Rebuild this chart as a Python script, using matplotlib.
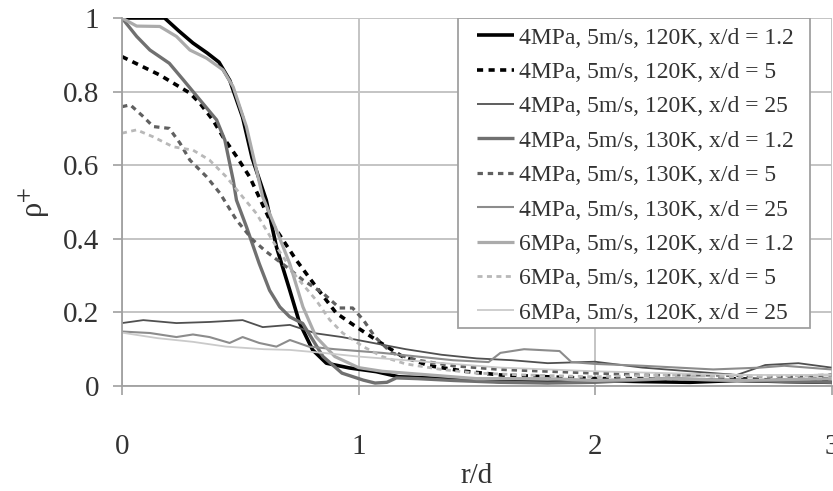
import matplotlib
matplotlib.use("Agg")
import matplotlib.pyplot as plt
from matplotlib.patches import Rectangle

plt.rcParams['font.family'] = ['Liberation Serif', 'DejaVu Serif']
plt.rcParams['mathtext.fontset'] = 'stix'

labels = [
    "4MPa, 5m/s, 120K, x/d = 1.2",
    "4MPa, 5m/s, 120K, x/d = 5",
    "4MPa, 5m/s, 120K, x/d = 25",
    "4MPa, 5m/s, 130K, x/d = 1.2",
    "4MPa, 5m/s, 130K, x/d = 5",
    "4MPa, 5m/s, 130K, x/d = 25",
    "6MPa, 5m/s, 120K, x/d = 1.2",
    "6MPa, 5m/s, 120K, x/d = 5",
    "6MPa, 5m/s, 120K, x/d = 25",
]

r1 = [0, 0.1, 0.18, 0.24, 0.30, 0.36, 0.41, 0.456, 0.51, 0.55, 0.61, 0.653, 0.709, 0.751, 0.806, 0.864, 0.962, 1.075, 1.17, 1.3, 1.45, 1.6, 1.8, 2.0, 2.2, 2.4, 2.6, 2.8, 3.0]
p1 = [1, 1, 1, 0.965, 0.932, 0.905, 0.88, 0.83, 0.73, 0.62, 0.505, 0.378, 0.261, 0.171, 0.098, 0.062, 0.049, 0.039, 0.025, 0.022, 0.018, 0.012, 0.01, 0.015, 0.012, 0.01, 0.015, 0.012, 0.01]

r2 = [0, 0.16, 0.287, 0.33, 0.384, 0.427, 0.485, 0.54, 0.625, 0.737, 0.82, 0.906, 0.99, 1.075, 1.186, 1.3, 1.45, 1.6, 1.8, 2.0, 2.2, 2.4, 2.6, 2.8, 3.0]
p2 = [0.895, 0.845, 0.796, 0.768, 0.723, 0.677, 0.623, 0.568, 0.451, 0.342, 0.27, 0.198, 0.161, 0.125, 0.08, 0.055, 0.04, 0.03, 0.025, 0.02, 0.02, 0.015, 0.02, 0.015, 0.02]

r3 = [0, 0.09, 0.23, 0.37, 0.51, 0.595, 0.71, 0.82, 0.93, 1.07, 1.2, 1.35, 1.5, 1.65, 1.8, 2.0, 2.2, 2.4, 2.6, 2.72, 2.86, 3.0]
p3 = [0.171, 0.179, 0.171, 0.174, 0.179, 0.16, 0.166, 0.143, 0.133, 0.116, 0.1, 0.085, 0.075, 0.07, 0.062, 0.066, 0.05, 0.04, 0.03, 0.057, 0.062, 0.05]

r4 = [0, 0.062, 0.118, 0.2, 0.259, 0.33, 0.4, 0.435, 0.47, 0.484, 0.526, 0.58, 0.624, 0.667, 0.709, 0.764, 0.85, 0.93, 1.02, 1.07, 1.12, 1.16, 1.25, 1.4, 1.6, 1.8, 2.0, 2.3, 2.6, 3.0]
p4 = [1, 0.95, 0.913, 0.877, 0.832, 0.777, 0.723, 0.668, 0.56, 0.505, 0.433, 0.333, 0.26, 0.215, 0.188, 0.17, 0.08, 0.035, 0.016, 0.008, 0.01, 0.022, 0.02, 0.015, 0.01, 0.008, 0.01, 0.02, 0.015, 0.01]

r5 = [0, 0.035, 0.09, 0.132, 0.2, 0.245, 0.287, 0.357, 0.414, 0.484, 0.553, 0.61, 0.695, 0.765, 0.85, 0.92, 0.975, 1.02, 1.07, 1.14, 1.25, 1.4, 1.6, 1.8, 2.0, 2.2, 2.5, 2.8, 3.0]
p5 = [0.759, 0.764, 0.732, 0.705, 0.70, 0.66, 0.614, 0.569, 0.524, 0.451, 0.397, 0.365, 0.324, 0.288, 0.252, 0.212, 0.212, 0.18, 0.133, 0.09, 0.07, 0.055, 0.045, 0.04, 0.035, 0.03, 0.03, 0.025, 0.03]

r6 = [0, 0.118, 0.23, 0.3, 0.37, 0.455, 0.51, 0.58, 0.653, 0.71, 0.79, 0.9, 1.0, 1.1, 1.25, 1.4, 1.55, 1.6, 1.7, 1.85, 1.9, 2.0, 2.2, 2.5, 2.7, 2.8, 3.0]
p6 = [0.148, 0.144, 0.133, 0.14, 0.133, 0.117, 0.133, 0.117, 0.107, 0.125, 0.107, 0.1, 0.095, 0.09, 0.08, 0.07, 0.065, 0.09, 0.1, 0.095, 0.065, 0.06, 0.055, 0.045, 0.05, 0.055, 0.045]

r7 = [0, 0.062, 0.16, 0.23, 0.287, 0.357, 0.427, 0.47, 0.526, 0.595, 0.653, 0.709, 0.765, 0.82, 0.9, 1.0, 1.1, 1.3, 1.5, 1.8, 2.0, 2.3, 2.6, 3.0]
p7 = [1, 0.978, 0.977, 0.95, 0.913, 0.891, 0.859, 0.813, 0.705, 0.514, 0.424, 0.333, 0.215, 0.134, 0.08, 0.05, 0.04, 0.03, 0.02, 0.02, 0.015, 0.02, 0.015, 0.02]

r8 = [0, 0.062, 0.132, 0.216, 0.3, 0.37, 0.44, 0.51, 0.568, 0.653, 0.737, 0.82, 0.878, 0.933, 1.02, 1.1, 1.2, 1.35, 1.5, 1.7, 2.0, 2.3, 2.6, 3.0]
p8 = [0.687, 0.696, 0.677, 0.65, 0.641, 0.614, 0.569, 0.514, 0.469, 0.378, 0.297, 0.234, 0.18, 0.144, 0.107, 0.08, 0.06, 0.045, 0.035, 0.03, 0.025, 0.03, 0.025, 0.03]

r9 = [0, 0.15, 0.3, 0.44, 0.6, 0.71, 0.85, 1.0, 1.2, 1.4, 1.6, 1.8, 2.0, 2.3, 2.6, 3.0]
p9 = [0.145, 0.13, 0.12, 0.107, 0.1, 0.098, 0.09, 0.08, 0.07, 0.06, 0.05, 0.045, 0.04, 0.035, 0.03, 0.03]

series = [(r1, p1), (r2, p2), (r3, p3), (r4, p4), (r5, p5), (r6, p6), (r7, p7), (r8, p8), (r9, p9)]
styles = [
    dict(color='#000000', lw=2.6, ls='-'),
    dict(color='#000000', lw=2.6, ls=(0, (1.7, 1.5))),
    dict(color='#505050', lw=1.3, ls='-'),
    dict(color='#707070', lw=2.4, ls='-'),
    dict(color='#606060', lw=2.3, ls=(0, (1.7, 1.5))),
    dict(color='#8c8c8c', lw=1.5, ls='-'),
    dict(color='#ababab', lw=2.3, ls='-'),
    dict(color='#b8b8b8', lw=2.0, ls=(0, (1.8, 1.6))),
    dict(color='#cacaca', lw=1.3, ls='-'),
]

fig = plt.figure(figsize=(8.33, 4.91), dpi=100)
ax = fig.add_axes([122 / 833, 1 - 386 / 491, (831.5 - 122) / 833, (386 - 18) / 491])

for (r, p), st, lab in zip(series, styles, labels):
    ax.plot(r, p, label=lab, solid_capstyle='butt', dash_capstyle='butt', **st)

ax.set_xlim(0, 3)
ax.set_ylim(0, 1)
ax.set_xticks([0, 1, 2, 3])
ax.set_xticklabels(['0', '1', '2', '3'])
ax.set_yticks([0, 0.2, 0.4, 0.6, 0.8, 1])
ax.set_yticklabels(['0', '0.2', '0.4', '0.6', '0.8', '1'])
ax.grid(True, color='#c4c4c4', lw=1.4)
ax.set_axisbelow(True)
for s in ['top', 'right']:
    ax.spines[s].set_visible(False)
for s in ['left', 'bottom']:
    ax.spines[s].set_color('#a0a0a0')
    ax.spines[s].set_linewidth(1.3)
ax.tick_params(axis='both', direction='out', length=6.5, width=1.2, color='#a0a0a0',
               labelsize=21, labelcolor='#333333')
ax.tick_params(axis='x', pad=28)
ax.tick_params(axis='y', pad=10)
ax.set_xlabel('r/d', fontsize=21, color='#333333', labelpad=2)
ax.set_ylabel('ρ$^{+}$', fontsize=22, color='#333333', labelpad=8)

# legend frame box
x0 = (458 - 122) / 709.5
x1 = (810 - 122) / 709.5
yb = (386 - 328) / 368.0
box = Rectangle((x0, yb), x1 - x0, 1.0 - yb, transform=ax.transAxes,
                facecolor='white', edgecolor='#a0a0a0', lw=1.3, zorder=4)
ax.add_patch(box)

leg = ax.legend(loc='upper left', bbox_to_anchor=((477 - 122) / 709.5, (386 - 27) / 368.0),
                fontsize=17, frameon=False,
                handlelength=1.55, handletextpad=0.22, labelspacing=0.545,
                borderpad=0.0, borderaxespad=0.0)
leg.set_zorder(5)
for t in leg.get_texts():
    t.set_color('#333333')

fig.savefig('out.png', dpi=100)
